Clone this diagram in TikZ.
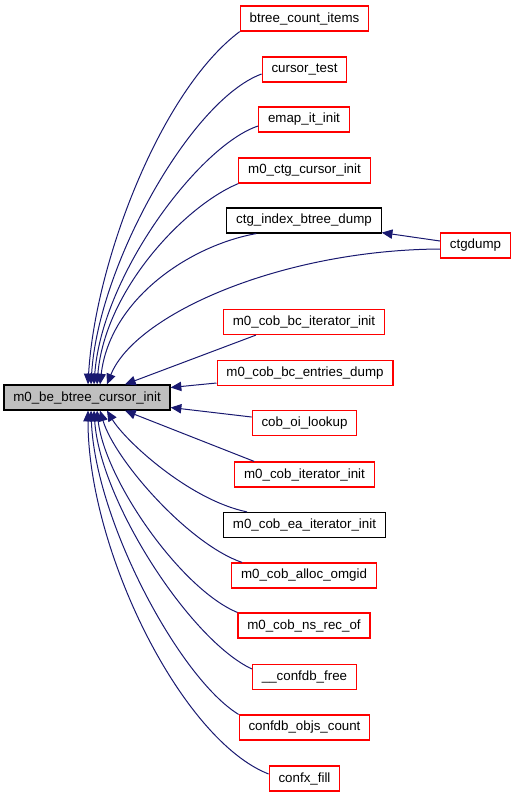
\documentclass[tikz,border=0pt]{standalone}
\usepackage{fontspec}
\setmainfont{Liberation Sans}
\usepackage{xcolor}
\usetikzlibrary{positioning, calc, arrows.meta}

\definecolor{edgeblue}{RGB}{25,25,112}
\definecolor{maingray}{RGB}{191,191,191}

\tikzset{
    fn/.style={draw=red, line width=0.9pt, minimum height=18.75pt, inner xsep=7pt,
        inner ysep=2pt, font=\fontsize{10}{12}\selectfont},
    fnblack/.style={fn, draw=black},
    fnmain/.style={fn, draw=black, fill=maingray},
    call/.style={draw=edgeblue, line width=0.75pt,
        -{Triangle[length=8pt,width=7pt]}, fill=none},
}

\begin{document}
\begin{tikzpicture}[x=0.75pt, y=-0.75pt]

    \useasboundingbox (0,0) rectangle (517,797);

    % --- Root function ---
    \node[fnmain] (main) at (87,397.5) {m0\_be\_btree\_cursor\_init};

    % --- Callers ---
    \node[fn] (c1) at (304.5,18.5) {btree\_count\_items};
    \node[fn] (c2) at (304.5,69.5) {cursor\_test};
    \node[fn] (c3) at (304,119.5) {emap\_it\_init};
    \node[fn] (c4) at (304.5,170.5) {m0\_ctg\_cursor\_init};
    \node[fnblack] (c5) at (304,220.5) {ctg\_index\_btree\_dump};
    \node[fn] (ctgdump) at (475.5,245.5) {ctgdump};
    \node[fn] (c7) at (304,322) {m0\_cob\_bc\_iterator\_init};
    \node[fn] (c8) at (305,373) {m0\_cob\_bc\_entries\_dump};
    \node[fn] (c9) at (304.5,423) {cob\_oi\_lookup};
    \node[fn] (c10) at (304.5,474.5) {m0\_cob\_iterator\_init};
    \node[fnblack] (c11) at (304.5,525) {m0\_cob\_ea\_iterator\_init};
    \node[fn] (c12) at (304,575.5) {m0\_cob\_alloc\_omgid};
    \node[fn] (c13) at (304,625.5) {m0\_cob\_ns\_rec\_of};
    \node[fn] (c14) at (304.5,677) {\_\_confdb\_free};
    \node[fn] (c15) at (304.5,727.5) {confdb\_objs\_count};
    \node[fn] (c16) at (304.5,778.5) {confx\_fill};

    % --- Edges into the top of the root ---
    \draw[call] (c1.south west) .. controls +(-79,59) and +(7,-122) .. ($(main.north)+(1,0)$);
    \draw[call] ($(c2.west)+(0,4.5)$) .. controls +(-71,26) and +(7,-118) .. ($(main.north)+(4,0)$);
    \draw[call] ($(c3.west)+(0,6.5)$) .. controls +(-58,19) and +(8,-110) .. ($(main.north)+(7,0)$);
    \draw[call] (c4.south west) .. controls +(-53,22) and +(8,-95) .. ($(main.north)+(10,0)$);
    \draw[call] ($(c5.south west)+(30,0)$) .. controls +(-67,12) and +(10,-85) .. ($(main.north)+(13,0)$);
    \draw[call] ($(ctgdump.west)+(0,3.5)$) .. controls +(-159,1) and +(28,-70) .. ($(main.north)+(20,0)$);
    \draw[call] ($(c7.south west)+(33,0)$) -- ($(main.north)+(38,0)$);

    % ctgdump also calls ctg_index_btree_dump
    \draw[call] ($(ctgdump.west)+(0,-4.5)$) -- ($(c5.south east)+(0,-1)$);

    % --- Edges into the right side ---
    \draw[call] ($(c8.west)+(0,10)$) -- ($(main.east)+(0,-10)$);
    \draw[call] ($(c9.west)+(0,-6)$) -- ($(main.east)+(0,10)$);

    % --- Edges into the bottom of the root ---
    \draw[call] ($(c10.north west)+(20,0)$) -- ($(main.south)+(38,0)$);
    \draw[call] ($(c11.north west)+(24,0)$) .. controls +(-58,-12) and +(18,30) .. ($(main.south)+(20,0)$);
    \draw[call] ($(c12.north west)+(11,0)$) .. controls +(-53,-18) and +(15,50) .. ($(main.south)+(13,0)$);
    \draw[call] (c13.north west) .. controls +(-56,-23) and +(8,70) .. ($(main.south)+(10,0)$);
    \draw[call] ($(c14.west)+(0,-8)$) .. controls +(-62,-29) and +(6,90) .. ($(main.south)+(7,0)$);
    \draw[call] (c15.north west) .. controls +(-59,-36) and +(4,110) .. ($(main.south)+(4,0)$);
    \draw[call] ($(c16.west)+(0,-4.5)$) .. controls +(-87,-34) and +(0,140) .. ($(main.south)+(1,0)$);

\end{tikzpicture}
\end{document}
